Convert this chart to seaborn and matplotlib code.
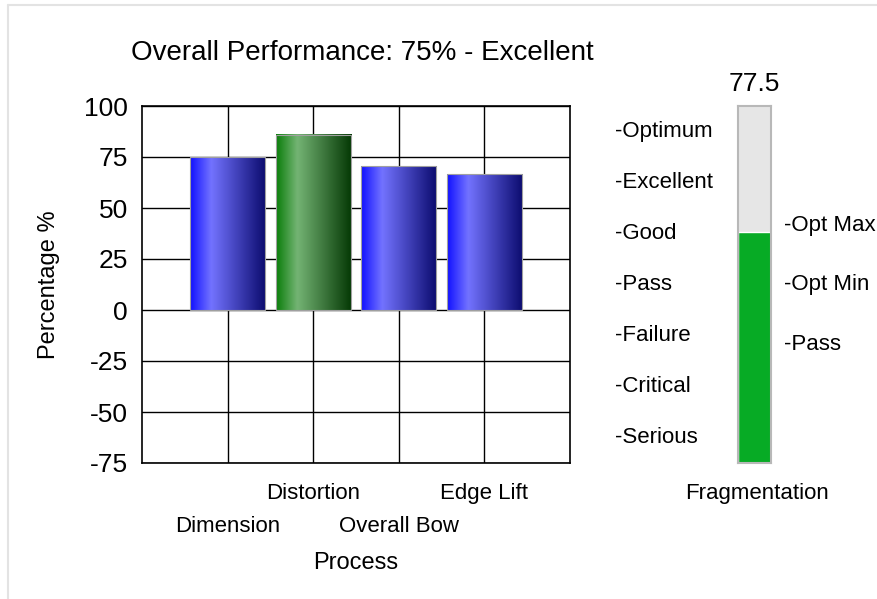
import numpy as np
import matplotlib
matplotlib.use("Agg")
import matplotlib.pyplot as plt
import seaborn as sns
from matplotlib.colors import LinearSegmentedColormap
from matplotlib.lines import Line2D

# bar chart data
processes = ["Dimension", "Distortion", "Overall Bow", "Edge Lift"]
percentages = [75, 86, 70.5, 66.5]
bar_styles = ["blue", "green", "blue", "blue"]
overall_label = "Overall Performance: 75% - Excellent"

# gauge data
gauge_name = "Fragmentation"
gauge_value = 77.5
gauge_max = 120
grade_labels = ["-Serious", "-Critical", "-Failure", "-Pass", "-Good", "-Excellent", "-Optimum"]
grade_positions = [8.6, 25.7, 42.9, 60, 77.1, 94.3, 111.4]
limit_labels = ["-Pass", "-Opt Min", "-Opt Max"]
limit_values = [40, 60, 80]

sns.set_style("white")
plt.rcParams["font.family"] = ["Liberation Sans", "DejaVu Sans"]
plt.rcParams["text.color"] = "black"
plt.rcParams["axes.labelcolor"] = "black"
plt.rcParams["axes.unicode_minus"] = False

ramps = {
    "blue": LinearSegmentedColormap.from_list("blue_bar", [(0, "#1010ff"), (0.28, "#7373ff"), (1, "#0b0b6e")]),
    "green": LinearSegmentedColormap.from_list("green_bar", [(0, "#0a7d0a"), (0.28, "#74b474"), (1, "#043804")]),
}

W, H = 878, 599
fig = plt.figure(figsize=(W / 100, H / 100), dpi=100)

# main bar chart
ax = fig.add_axes([142 / W, 136 / H, 428 / W, 357 / H])
sns.barplot(x=processes, y=percentages, ax=ax, width=0.88, color="#3030ff", saturation=1)

grad = np.linspace(0, 1, 256).reshape(1, -1)
for patch, style in zip(ax.patches, bar_styles):
    x0, y0 = patch.get_x(), patch.get_y()
    w, h = patch.get_width(), patch.get_height()
    ax.imshow(grad, cmap=ramps[style], extent=(x0, x0 + w, y0, y0 + h),
              aspect="auto", zorder=3, interpolation="bicubic")
    patch.set_facecolor("none")
    patch.set_edgecolor("#a0a0a0")
    patch.set_linewidth(0.8)
    patch.set_zorder(4)

ax.set_xlim(-1, 4)
ax.set_ylim(-75, 100)
ax.set_yticks(range(-75, 101, 25))
ax.grid(True, color="black", linewidth=1.0)
ax.set_axisbelow(True)
for s in ax.spines.values():
    s.set_visible(True)
    s.set_color("black")
    s.set_linewidth(1.2)
ax.tick_params(axis="y", direction="out", length=6, width=1, labelsize=19, pad=4, colors="black")
ax.tick_params(axis="x", direction="out", length=3, width=1, labelsize=16, pad=11.5, colors="black")
# stagger the category labels
for t in ax.xaxis.get_major_ticks()[::2]:
    t.set_pad(35)

ax.set_xlabel("Process", fontsize=17)
ax.xaxis.set_label_coords(0.5, -0.249)
ax.xaxis.label.set_va("top")
ax.set_ylabel("Percentage %", fontsize=17)
ax.yaxis.set_label_coords(-0.192, 0.5)

fig.text(362 / W, 1 - 60 / H, overall_label, ha="center", va="baseline", fontsize=20)

# gauge
gx = fig.add_axes([737.7 / W, 136 / H, 33 / W, 357 / H])
gx.set_facecolor("#e6e6e6")
sns.barplot(x=[gauge_name], y=[gauge_value], ax=gx, color="#07ab25", saturation=1, width=1.0)
gx.set_xlim(-0.5, 0.5)
gx.set_ylim(0, gauge_max)
gx.set_xticks([])
gx.set_yticks([])
gx.set_xlabel("")
gx.set_ylabel("")
for s in gx.spines.values():
    s.set_visible(True)
    s.set_color("#b8b8b8")
    s.set_linewidth(1.5)

gx.text(0.5, 1.042, f"{gauge_value:g}", transform=gx.transAxes, ha="center", va="baseline", fontsize=19)
gx.text(0.6, -20 / 357, gauge_name, transform=gx.transAxes, ha="center", va="top", fontsize=16)
for lab, pos in zip(grade_labels, grade_positions):
    gx.text(-3.72, pos, lab, transform=gx.get_yaxis_transform(), ha="left", va="center", fontsize=16)
for lab, pos in zip(limit_labels, limit_values):
    gx.text(1.40, pos, lab, transform=gx.get_yaxis_transform(), ha="left", va="center", fontsize=16)

# panel frame
fig.add_artist(Line2D([8 / W, 8 / W], [0, 1 - 5 / H], color="#e3e3e3", lw=1.5, transform=fig.transFigure))
fig.add_artist(Line2D([8 / W, 1], [1 - 5 / H, 1 - 5 / H], color="#e3e3e3", lw=1.5, transform=fig.transFigure))

fig.savefig("out.png", dpi=100)
